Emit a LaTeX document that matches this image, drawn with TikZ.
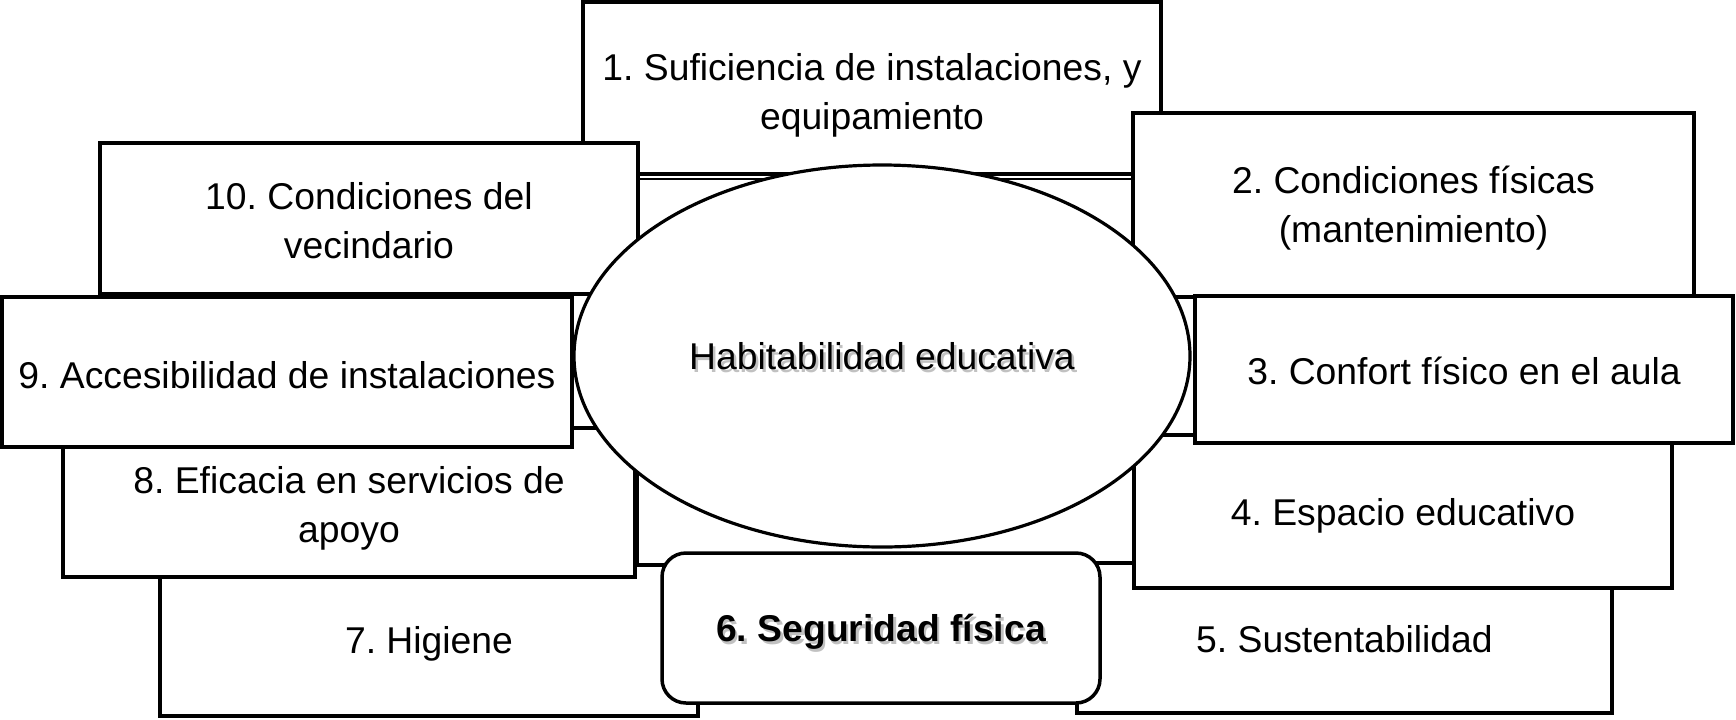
\documentclass[tikz,border=0pt]{standalone}
\usepackage{fontspec}
\setmainfont{Liberation Sans}
\usetikzlibrary{shapes.geometric}
\frenchspacing
\begin{document}
\begin{tikzpicture}[x=0.5pt,y=-0.5pt,
  box/.style={draw=black, line width=1.75pt, fill=white, inner sep=0pt},
  hubrect/.style={draw=black, line width=1pt, fill=white, inner sep=0pt},
  hubshape/.style={draw=black, ellipse, line width=1.6pt, fill=white, inner sep=0pt},
  txt/.style={inner sep=0pt, align=center, font=\fontsize{18.65}{24.4}\selectfont},
  shadowtxt/.style={txt, text=black!40, opacity=0.6},
  boldtxt/.style={txt, font=\fontsize{18.65}{24.4}\selectfont\bfseries},
  boldshadow/.style={boldtxt, text=black!40, opacity=0.6}
]
\useasboundingbox (0,0) rectangle (1736,719);
\fill[white] (0,0) rectangle (1736,719);

% hidden central rectangle
\node[hubrect, minimum width=248pt, minimum height=193pt] (core) at (886,372) {};

\node[box, minimum width=289pt, minimum height=86pt] (b1) at (872,88) {};
\node[txt] (b1t) at ([yshift=-3.75pt]b1.center) {1. Suficiencia de instalaciones, y\\equipamiento};
\node[box, minimum width=269pt, minimum height=75.5pt] (b10) at (369,218.5) {};
\node[txt] (b10t) at ([yshift=-1pt]b10.center) {10. Condiciones del\\vecindario};
\node[box, minimum width=280.5pt, minimum height=92pt] (b2) at (1413.5,205) {};
\node[txt] (b2t) at ([yshift=-1.75pt]b2.center) {2. Condiciones físicas\\(mantenimiento)};
\node[box, minimum width=269pt, minimum height=75.5pt] (b7) at (429,640.5) {};
\node[txt] (b7t) at ([yshift=-1.75pt]b7.center) {7. Higiene};
\node[box, minimum width=267.5pt, minimum height=75pt] (b5) at (1344.5,638) {};
\node[txt] (b5t) at ([yshift=-0.5pt]b5.center) {5. Sustentabilidad};
\node[box, minimum width=286pt, minimum height=74.5pt] (b8) at (349,502.5) {};
\node[txt] (b8t) at ([yshift=-2.75pt]b8.center) {8. Eficacia en servicios de\\apoyo};
\node[box, minimum width=269pt, minimum height=76.5pt] (b4) at (1403,511.5) {};
\node[txt] (b4t) at ([yshift=-2.25pt]b4.center) {4. Espacio educativo};
\node[box, minimum width=285pt, minimum height=75pt] (b9) at (287,372) {};
\node[txt] (b9t) at ([yshift=-1.75pt]b9.center) {9. Accesibilidad de instalaciones};
\node[box, minimum width=269pt, minimum height=73.5pt] (b3) at (1464,369.5) {};
\node[txt] (b3t) at ([yshift=-0.5pt]b3.center) {3. Confort físico en el aula};

% central ellipse
\node[hubshape, minimum width=308pt, minimum height=191pt] (hub) at (882,356) {};
\node[shadowtxt] (hubshadow) at ([shift={(2.5,3)}]hub.center) {Habitabilidad educativa};
\node[txt] (hubtext) at (hub.center) {Habitabilidad educativa};

% box 6
\node[box, rounded corners=12pt, minimum width=219pt, minimum height=75pt] (b6) at (881,628) {};
\coordinate (b6c) at ([yshift=-1.75pt]b6.center);
\node[boldshadow] (b6shadow) at ([shift={(2.5,3)}]b6c) {6. Seguridad física};
\node[boldtxt] (b6text) at (b6c) {6. Seguridad física};
\end{tikzpicture}
\end{document}
